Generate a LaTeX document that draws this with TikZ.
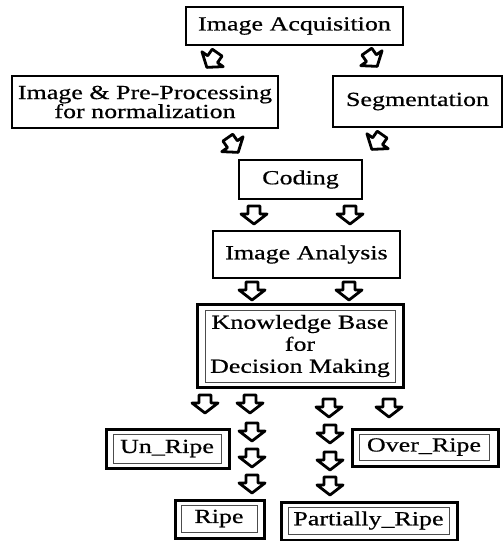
\documentclass[tikz,border=0pt]{standalone}
\usepackage{fontspec}
\setmainfont{Liberation Serif}[FakeStretch=1.3, UprightFeatures={FakeBold=0.6}]
\usetikzlibrary{calc}
\newcommand\blockarr[3]{% x, y, direction angle (90 = down)
  \draw[arrowline]
    ($(#1,#2)+(#3:-9)+(#3+90:6)$) -- ($(#1,#2)+(#3:-1)+(#3+90:6)$) --
    ($(#1,#2)+(#3:-1)+(#3+90:13)$) -- ($(#1,#2)+(#3:9)$) --
    ($(#1,#2)+(#3:-1)+(#3+90:-13)$) -- ($(#1,#2)+(#3:-1)+(#3+90:-6)$) --
    ($(#1,#2)+(#3:-9)+(#3+90:-6)$) -- cycle;}
\begin{document}
\begin{tikzpicture}[x=1pt,y=-1pt,
  txt/.style={font=\fontsize{20}{19}\selectfont, align=center},
  box/.style={draw, line width=2pt, inner sep=0pt, txt},
  outerbox/.style={draw, line width=3pt, inner sep=0pt},
  innerbox/.style={draw=black!70, line width=1pt, inner sep=0pt, txt},
  arrowline/.style={draw, line width=2.8pt, line join=round}
]
\useasboundingbox (0,0) rectangle (503,541);

\node[box, minimum width=217, minimum height=38] (acq) at (294.5,26) {Image Acquisition};
\node[box, minimum width=266, minimum height=52] (pre) at (145,102) {Image \& Pre-Processing\\for normalization};
\node[box, minimum width=169, minimum height=51] (seg) at (417.5,101.5) {Segmentation};
\node[box, minimum width=123, minimum height=39] (cod) at (300.5,179.5) {Coding};
\node[box, minimum width=187, minimum height=47] (ana) at (306.5,254.5) {Image Analysis};

\node[outerbox, minimum width=206, minimum height=83] (kbo) at (300,345.5) {};
\node[innerbox, minimum width=190, minimum height=72, font=\fontsize{20}{22}\selectfont] (kb) at (300,346) {Knowledge Base\\for\\Decision Making};

\node[outerbox, minimum width=123, minimum height=39] (unro) at (167.5,448.5) {};
\node[innerbox, minimum width=108, minimum height=29] (unr) at (167,448.5) {Un\_Ripe};

\node[outerbox, minimum width=146, minimum height=37] (ovro) at (425,447.5) {};
\node[innerbox, minimum width=130, minimum height=26] (ovr) at (424,447) {Over\_Ripe};

\node[outerbox, minimum width=89, minimum height=38] (ripo) at (219.5,519) {};
\node[innerbox, minimum width=76, minimum height=27] (rip) at (219,518.5) {Ripe};

\node[outerbox, minimum width=176, minimum height=38] (paro) at (369,521) {};
\node[innerbox, minimum width=161, minimum height=27] (par) at (368.5,520.5) {Partially\_Ripe};

% block arrows
\blockarr{212}{60}{125}
\blockarr{372}{59}{55}
\blockarr{233}{145}{55}
\blockarr{377}{142}{125}
\blockarr{254}{215}{90}
\blockarr{350}{215}{90}
\blockarr{252}{291}{90}
\blockarr{349}{291}{90}
\blockarr{205}{404}{90}
\blockarr{250}{404}{90}
\blockarr{329}{408}{90}
\blockarr{389}{408}{90}
\blockarr{252}{432}{90}
\blockarr{252}{458}{90}
\blockarr{252}{484}{90}
\blockarr{330}{434}{90}
\blockarr{330}{461}{90}
\blockarr{330}{486}{90}
\end{tikzpicture}
\end{document}
